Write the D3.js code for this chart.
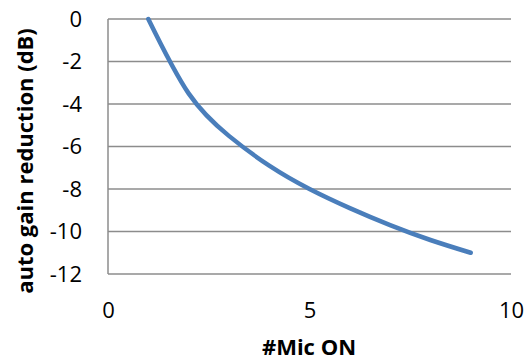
<!DOCTYPE html>
<html>
<head>
<meta charset="utf-8">
<script src="https://cdn.jsdelivr.net/npm/d3@7"></script>
<style>
  body { margin: 0; background: #fff; }
  text { font-family: "Open Sans", "Liberation Sans", sans-serif; fill: #000; }
</style>
</head>
<body>
<svg width="530" height="362"></svg>
<script>
// number of mics switched on vs. gain reduction
var micsOn = [1, 2, 3, 4, 5, 6, 7, 8, 9];
var gainReduction = [0, -3.5, -5.5, -6.9, -8.0, -8.9, -9.7, -10.4, -11.0];
var xTicks = [0, 5, 10];
var yTicks = [0, -2, -4, -6, -8, -10, -12];

var svg = d3.select("svg");
var plotLeft = 108, plotRight = 511, plotTop = 19, plotBottom = 274;

var x = d3.scaleLinear().domain([0, 10]).range([plotLeft, plotRight]);
var y = d3.scaleLinear().domain([-12, 0]).range([plotBottom, plotTop]);

// plain hyphen for negatives, like the original
var fmt = function (d) { return String(d); };

// horizontal gridlines
svg.append("g")
    .selectAll("line")
    .data(yTicks)
    .enter().append("line")
    .attr("x1", plotLeft)
    .attr("x2", plotRight)
    .attr("y1", function (d) { return y(d); })
    .attr("y2", function (d) { return y(d); })
    .attr("stroke", "#8c8c8c")
    .attr("stroke-width", 1.5);

// left axis line
svg.append("line")
    .attr("x1", plotLeft).attr("x2", plotLeft)
    .attr("y1", plotTop).attr("y2", plotBottom)
    .attr("stroke", "#8c8c8c")
    .attr("stroke-width", 1.5);

var yAxis = svg.append("g")
    .attr("transform", "translate(" + plotLeft + ",0)")
    .call(d3.axisLeft(y).tickValues(yTicks).tickFormat(fmt).tickSize(0).tickPadding(26));
yAxis.select(".domain").remove();
yAxis.selectAll("text")
    .style("font-size", "22px")
    .style("font-family", "'Open Sans', sans-serif");

var xAxis = svg.append("g")
    .attr("transform", "translate(0," + plotBottom + ")")
    .call(d3.axisBottom(x).tickValues(xTicks).tickFormat(fmt).tickSize(0).tickPadding(28));
xAxis.select(".domain").remove();
xAxis.selectAll("text")
    .style("font-size", "22px")
    .style("font-family", "'Open Sans', sans-serif");

var line = d3.line()
    .x(function (d, i) { return x(micsOn[i]); })
    .y(function (d) { return y(d); })
    .curve(d3.curveNatural);

svg.append("path")
    .datum(gainReduction)
    .attr("d", line)
    .attr("fill", "none")
    .attr("stroke", "#4a7ebb")
    .attr("stroke-width", 4.5)
    .attr("stroke-linecap", "round");

svg.append("text")
    .attr("x", 309)
    .attr("y", 355)
    .attr("text-anchor", "middle")
    .style("font-size", "22px")
    .style("font-weight", "bold")
    .text("#Mic ON");

svg.append("text")
    .attr("transform", "translate(33,161) rotate(-90)")
    .attr("text-anchor", "middle")
    .style("font-size", "22px")
    .style("font-weight", "bold")
    .text("auto gain reduction (dB)");
</script>
</body>
</html>
